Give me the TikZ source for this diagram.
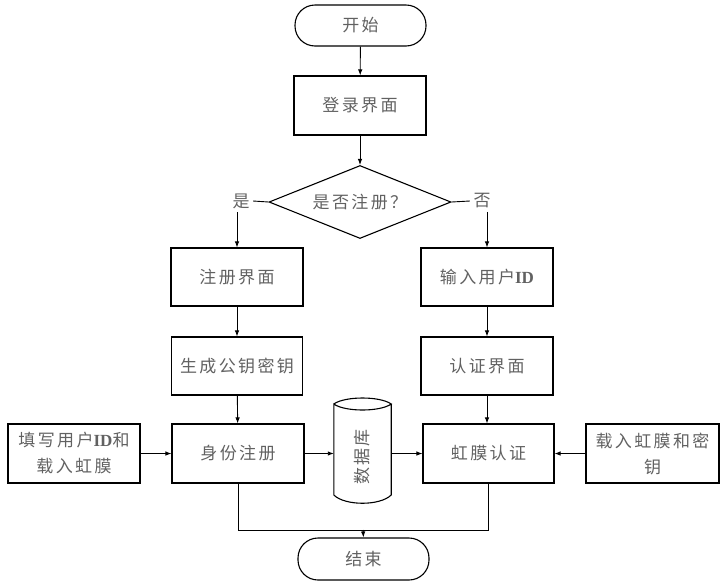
\documentclass[tikz,border=0pt]{standalone}
\usepackage{fontspec}
\newfontfamily\cjk[LetterSpace=14]{Noto Sans CJK SC}
\newfontfamily\idfont{Liberation Serif}
\newcommand\myID{{\idfont\bfseries ID}}
\usetikzlibrary{shapes.geometric,arrows.meta}
\colorlet{txt}{black!62}
\begin{document}
\begin{tikzpicture}[x=1pt,y=-1pt,
  every node/.style={font=\cjk\fontsize{17}{26}\selectfont, text=txt},
  box/.style={draw=black, line width=1.1pt, inner sep=0pt, align=center},
  term/.style={box, rounded corners=20pt},
  arr/.style={-{Latex[length=6pt,width=4.5pt]}, line width=0.9pt},
  ln/.style={line width=0.9pt}]
\useasboundingbox (0,0) rectangle (726,587);

\node[term, minimum width=131, minimum height=41] (start) at (360.5,25.5) {开始};
\node[box, minimum width=132, minimum height=59] (login) at (360,105.5) {登录界面};
\node[box, diamond, aspect=2.5, minimum width=182, minimum height=73] (dec) at (360,202) {是否注册？};
\node (yes) at (241,201) {是};
\node (no) at (482,201) {否};
\node[box, minimum width=132, minimum height=58] (reg) at (237,277) {注册界面};
\node[box, minimum width=132, minimum height=58] (inid) at (487,277) {输入用户\myID};
\node[box, minimum width=131, minimum height=58] (gen) at (237,366) {生成公钥密钥};
\node[box, minimum width=132, minimum height=58] (auth) at (487,366) {认证界面};
\node[box, minimum width=132, minimum height=59] (idreg) at (238,453.5) {身份注册};
\node[box, minimum width=131, minimum height=59] (iris) at (488.5,453.5) {虹膜认证};
\node[box, minimum width=132, minimum height=59] (fill) at (74,453.5) {填写用户\myID 和\\载入虹膜};
\node[box, minimum width=133, minimum height=59] (load) at (652.5,453.5) {载入虹膜和密\\钥};
\node[inner sep=0pt, minimum width=57, minimum height=106] (db) at (362.5,451) {};
\node[rotate=90] (dbtext) at (362,457) {数据库};
\node[term, minimum width=131, minimum height=42] (end) at (363.5,559) {结束};
\coordinate (m) at (363,530);

% cylinder
\draw[line width=1.1pt] (db.west |- 0,404) .. controls (345,396) and (380,396) .. (db.east |- 0,404)
  .. controls (380,412) and (345,412) .. (db.west |- 0,404) -- (db.west |- 0,495)
  .. controls (345,506) and (380,506) .. (db.east |- 0,495) -- (db.east |- 0,404);

\draw[arr] (start) -- (login);
\draw[arr] (login.south) -- (dec.north);
\draw[ln] (dec.west) -- (yes.east);
\draw[ln] (dec.east) -- (no.west);
\draw[arr] (reg.north |- yes.south) -- (reg.north);
\draw[arr] (inid.north |- no.south) -- (inid.north);
\draw[arr] (reg) -- (gen);
\draw[arr] (inid) -- (auth);
\draw[arr] (gen) -- (idreg);
\draw[arr] (auth.south) -- (auth.south |- iris.north);
\draw[arr] (fill) -- (idreg);
\draw[arr] (idreg.east) -- (db.west |- idreg.east);
\draw[arr] (db.east |- iris.west) -- (iris.west);
\draw[arr] (load) -- (iris);
\draw[ln] (idreg.south) -- (idreg.south |- m) -- (iris.south |- m) -- (iris.south);
\draw[arr] (m) -- (end.north);
\end{tikzpicture}
\end{document}
